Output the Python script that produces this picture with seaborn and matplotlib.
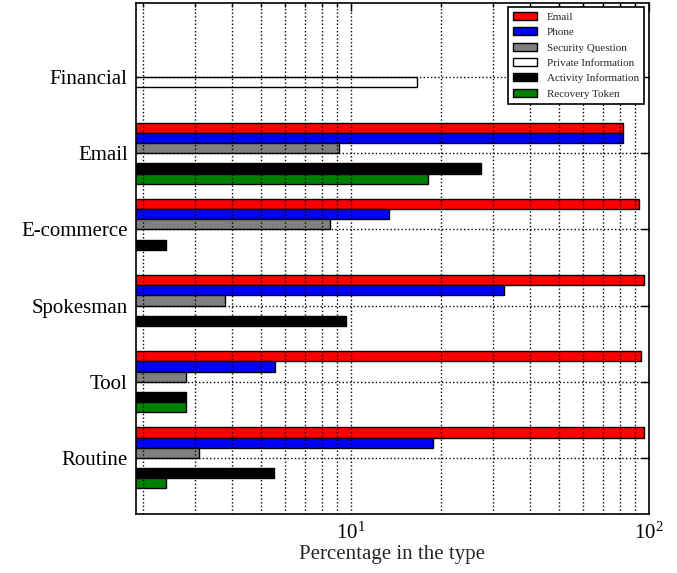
import numpy as np
import pandas as pd
import matplotlib
matplotlib.use("Agg")
import matplotlib.pyplot as plt
from matplotlib.ticker import NullFormatter
import seaborn as sns

# Account types (top to bottom) and recovery methods
categories = ["Financial", "Email", "E-commerce", "Spokesman", "Tool", "Routine"]
methods = ["Email", "Phone", "Security Question", "Private Information",
           "Activity Information", "Recovery Token"]
colors = ["#ff0000", "#0000ff", "#808080", "#ffffff", "#000000", "#008000"]

# Percentage of sites in each type offering a method (None = not offered)
email_pct    = [None, 82.0, 92.8, 96.2, 94.4, 96.2]
phone_pct    = [None, 82.0, 13.4, 32.7, 5.58, 18.9]
security_pct = [None, 9.1, 8.5, 3.79, 2.79, 3.09]
private_pct  = [16.7, None, None, None, None, None]
activity_pct = [None, 27.4, 2.40, 9.62, 2.80, 5.50]
token_pct    = [None, 18.2, None, None, 2.79, 2.39]

series = [email_pct, phone_pct, security_pct, private_pct, activity_pct, token_pct]

rows = []
for method, vals in zip(methods, series):
    for cat, v in zip(categories, vals):
        if v is not None:
            rows.append({"type": cat, "method": method, "pct": v})
df = pd.DataFrame(rows)

sns.set_theme(style="white")
plt.rcParams["font.family"] = ["Liberation Serif", "DejaVu Serif"]
plt.rcParams["mathtext.fontset"] = "stix"

fig, ax = plt.subplots(figsize=(6.77, 5.73), dpi=100)
fig.subplots_adjust(left=0.2009, right=0.9582, top=0.9953, bottom=0.103)

sns.barplot(data=df, x="pct", y="type", hue="method", order=categories,
            hue_order=methods, palette=dict(zip(methods, colors)),
            orient="h", errorbar=None, width=0.8,
            edgecolor="black", linewidth=1.0, saturation=1, ax=ax,
            legend=False)

# keep the dotted grid drawn over the bars
for p in ax.patches:
    p.set_zorder(1)

# Log axis for the percentages; bars start at zero and are clipped
ax.set_xscale("log")
ax.set_xlim(1.9, 100)
ax.set_ylim(5.735, -0.975)
ax.set_xlabel("Percentage in the type", fontsize=15, labelpad=1)
ax.set_ylabel("")
ax.xaxis.set_minor_formatter(NullFormatter())

ax.set_axisbelow(False)
ax.grid(True, which="major", axis="both", color="black", linestyle=":", linewidth=1,
        zorder=2.5)
ax.grid(True, which="minor", axis="x", color="black", linestyle=":", linewidth=1,
        zorder=2.5)

for s in ax.spines.values():
    s.set_color("black")
    s.set_linewidth(1.2)

ax.tick_params(axis="both", which="both", direction="in", top=True, right=True,
               colors="black")
ax.tick_params(axis="both", which="major", length=6, width=1, labelsize=15, pad=6)
ax.tick_params(axis="x", which="minor", length=3, width=1)

handles = [plt.Rectangle((0, 0), 1, 1, facecolor=c, edgecolor="black", linewidth=1)
           for c in colors]
leg = ax.legend(handles, methods, loc="upper right", fontsize=8,
                frameon=True, fancybox=False, framealpha=1, edgecolor="black",
                borderaxespad=0.4, labelspacing=0.5, handlelength=2.2,
                handleheight=0.7, handletextpad=0.9, borderpad=0.45)
leg.get_frame().set_linewidth(1.2)
leg.set_zorder(5)

fig.savefig("out.png", dpi=100)
